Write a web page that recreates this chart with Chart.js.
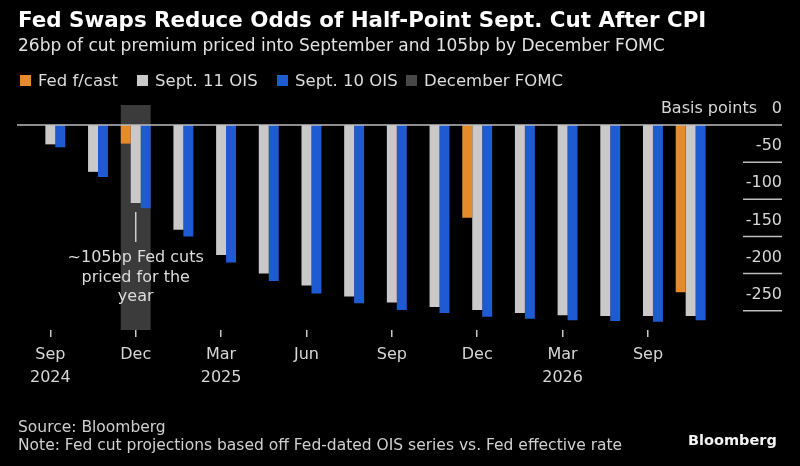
<!DOCTYPE html>
<html>
<head>
<meta charset="utf-8">
<script src="https://cdn.jsdelivr.net/npm/chart.js@4.4.1/dist/chart.umd.min.js"></script>
<style>
  html, body { margin: 0; padding: 0; background: #000; }
  #wrap { position: relative; width: 800px; height: 466px; overflow: hidden; font-family: "DejaVu Sans", sans-serif; color: #ddd; }
  #chart { position: absolute; left: 0; top: 0; }
  .title { position: absolute; left: 18px; top: 9px; font-size: 21.4px; line-height: 21px; font-weight: bold; color: #fff; white-space: nowrap; }
  .subtitle { position: absolute; left: 18px; top: 37px; font-size: 17px; line-height: 17px; color: #e2e2e2; white-space: nowrap; }
  .item { position: absolute; top: 72px; height: 17px; display: flex; align-items: center; font-size: 16.5px; color: #ddd; white-space: nowrap; }
  .item .sw { width: 11px; height: 11px; margin-right: 7px; }
  .source { position: absolute; left: 18px; top: 418px; font-size: 15.5px; line-height: 18px; color: #cfcfcf; white-space: nowrap; }
  .brand { position: absolute; left: 688px; top: 432px; font-size: 14.5px; font-weight: bold; color: #f2f2f2; }
</style>
</head>
<body>
<div id="wrap">
  <canvas id="chart" width="800" height="466"></canvas>
  <div class="title">Fed Swaps Reduce Odds of Half-Point Sept. Cut After CPI</div>
  <div class="subtitle">26bp of cut premium priced into September and 105bp by December FOMC</div>
  <div class="source">Source: Bloomberg<br>Note: Fed cut projections based off Fed-dated OIS series vs. Fed effective rate</div>
  <div class="brand">Bloomberg</div>
</div>
<script>
// x axis labels, one per meeting (blank = no label)
var tickLabels = [['Sep', '2024'], '', 'Dec', '', ['Mar', '2025'], '', 'Jun', '', 'Sep', '', 'Dec', '', ['Mar', '2026'], '', 'Sep', ''];

// basis points of cuts priced
var fedForecast = [null, null, -25, null, null, null, null, null, null, null, -125, null, null, null, null, -225];
var sept11 = [-26, -63, -105, -141, -175, -200, -216, -231, -239, -245, -249, -253, -256, -257, -257, -257];
var sept10 = [-30, -70, -112, -150, -185, -210, -227, -240, -249, -253, -258, -261, -263, -264, -265, -263];

// the highlighted December FOMC meeting
var decemberIndex = 2;

var seriesLabels = ['Fed f/cast', 'Sept. 11 OIS', 'Sept. 10 OIS', 'December FOMC'];
var seriesColors = ['#e58b2c', '#c9c9c9', '#1e5bd2', '#3b3b3b'];

var yMin = -276, yMax = 27;

var band = tickLabels.map(function (l, i) { return i === decemberIndex ? [yMin, yMax] : null; });

// legend
var legendLeft = [20, 137, 277, 406];
var wrap = document.getElementById('wrap');
seriesLabels.forEach(function (lab, i) {
  var it = document.createElement('div');
  it.className = 'item';
  it.style.left = legendLeft[i] + 'px';
  it.innerHTML = '<span class="sw" style="background:' + (i === 3 ? '#484848' : seriesColors[i]) + '"></span>' + lab;
  wrap.appendChild(it);
});

var FONT = 'DejaVu Sans';

var decor = {
  id: 'decor',
  afterDatasetsDraw: function (chart) {
    var ctx = chart.ctx, ys = chart.scales.y, xs = chart.scales.x, area = chart.chartArea;
    var right = ys.right;
    ctx.save();
    // zero line
    var y0 = ys.getPixelForValue(0);
    ctx.strokeStyle = '#bdbdbd';
    ctx.lineWidth = 1.5;
    ctx.beginPath();
    ctx.moveTo(area.left - 12, y0);
    ctx.lineTo(right, y0);
    ctx.stroke();

    // right axis labels sitting above short rules
    ctx.font = '16px "' + FONT + '"';
    ctx.fillStyle = '#d6d6d6';
    ctx.textAlign = 'right';
    ctx.textBaseline = 'middle';
    ys.ticks.forEach(function (t) {
      var y = ys.getPixelForValue(t.value);
      if (t.value !== 0) {
        ctx.beginPath();
        ctx.moveTo(right - 39, y);
        ctx.lineTo(right, y);
        ctx.stroke();
      }
      ctx.fillText(String(t.value), right, y - 16);
    });
    ctx.fillText('Basis points', right - 25, y0 - 16);

    // annotation under the December bar
    var x = xs.getPixelForValue(decemberIndex);
    var yb = ys.getPixelForValue(sept11[decemberIndex]);
    ctx.strokeStyle = '#cfcfcf';
    ctx.beginPath();
    ctx.moveTo(x, yb + 9);
    ctx.lineTo(x, yb + 39);
    ctx.stroke();
    ctx.textAlign = 'center';
    ctx.fillStyle = '#dcdcdc';
    ['~105bp Fed cuts', 'priced for the', 'year'].forEach(function (s, i) {
      ctx.fillText(s, x, yb + 55 + i * 19.5);
    });
    ctx.restore();
  }
};

var barOpts = { categoryPercentage: 0.7, barPercentage: 1, borderWidth: 0 };

new Chart('chart', {
  type: 'bar',
  data: {
    labels: tickLabels,
    datasets: [
      Object.assign({ label: seriesLabels[0], data: fedForecast, backgroundColor: seriesColors[0] }, barOpts),
      Object.assign({ label: seriesLabels[1], data: sept11, backgroundColor: seriesColors[1] }, barOpts),
      Object.assign({ label: seriesLabels[2], data: sept10, backgroundColor: seriesColors[2] }, barOpts),
      Object.assign({ label: seriesLabels[3], data: band, backgroundColor: seriesColors[3], grouped: false }, barOpts)
    ]
  },
  options: {
    responsive: false,
    animation: false,
    layout: { padding: { top: 105, left: 29, right: 18, bottom: 76 } },
    plugins: { legend: { display: false }, tooltip: { enabled: false } },
    scales: {
      x: {
        offset: true,
        border: { display: false },
        grid: {
          offset: false,
          drawOnChartArea: false,
          drawTicks: true,
          tickLength: 7,
          lineWidth: 1.5,
          color: function (c) { return tickLabels[c.index] !== '' ? '#c8c8c8' : 'rgba(0,0,0,0)'; }
        },
        ticks: { color: '#d6d6d6', autoSkip: false, maxRotation: 0, padding: 7, font: { family: FONT, size: 16, lineHeight: 1.4 } },
        afterFit: function (s) { s.height = 60; }
      },
      y: {
        position: 'right',
        min: yMin,
        max: yMax,
        border: { display: false },
        grid: { display: false },
        ticks: { display: false, stepSize: 50, includeBounds: false },
        afterFit: function (s) { s.width = 70; }
      }
    }
  },
  plugins: [decor]
});
</script>
</body>
</html>
